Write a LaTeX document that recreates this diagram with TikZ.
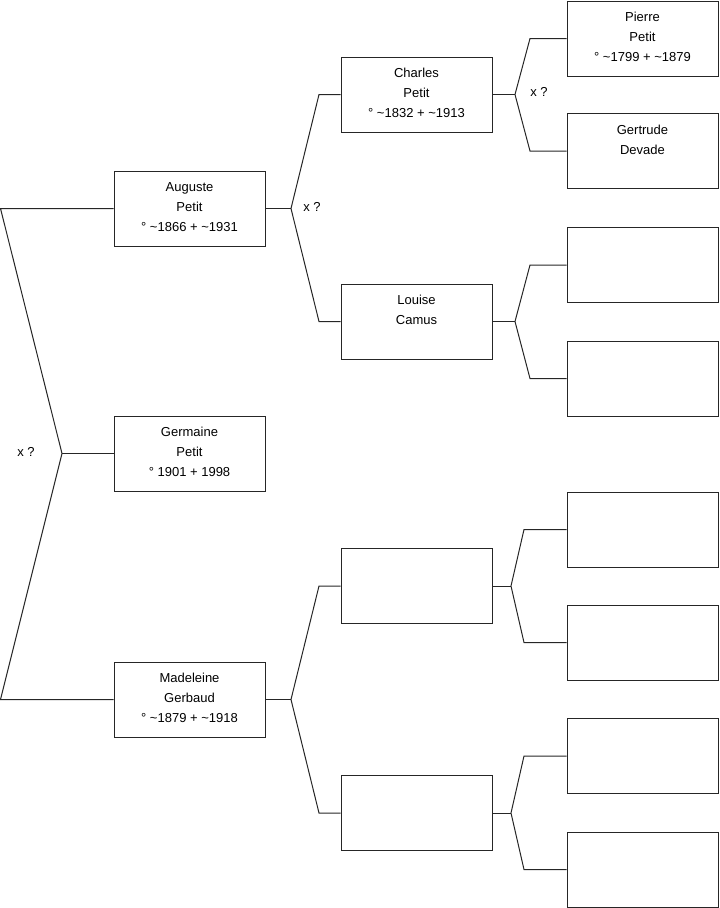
\documentclass[tikz,border=0pt]{standalone}
\usepackage{fontspec}
\setmainfont{Liberation Sans}
\begin{document}
\begin{tikzpicture}[x=0.75pt,y=-0.75pt,
  person/.style={draw=black!85, line width=0.75pt, minimum width=113.25pt, minimum height=56.25pt,
    inner sep=0pt, align=center, text depth=2.5pt, font=\fontsize{9.75}{15}\selectfont},
  link/.style={draw=black!85, line width=0.75pt},
  note/.style={font=\fontsize{9.75}{12}\selectfont, inner sep=0pt}]
\useasboundingbox (0,0) rectangle (719,908);
% column 0
\node[person] (aug) at (189.5,208.5) {Auguste\\Petit\\° \textasciitilde1866 + \textasciitilde1931};
\node[person] (ger) at (189.5,453.5) {Germaine\\Petit\\° 1901 + 1998};
\node[person] (mad) at (189.5,699.5) {Madeleine\\Gerbaud\\° \textasciitilde1879 + \textasciitilde1918};
% column 1
\node[person] (cha) at (416.5,94.5) {Charles\\Petit\\° \textasciitilde1832 + \textasciitilde1913};
\node[person] (lou) at (416.5,321.5) {Louise\\Camus\\\strut};
\node[person] (m1) at (416.5,586) {};
\node[person] (m2) at (416.5,813) {};
% column 2
\node[person] (pie) at (642.5,38.5) {Pierre\\Petit\\° \textasciitilde1799 + \textasciitilde1879};
\node[person] (ger2) at (642.5,151) {Gertrude\\Devade\\\strut};
\node[person] (r3) at (642.5,265) {};
\node[person] (r4) at (642.5,378.5) {};
\node[person] (r5) at (642.5,529.5) {};
\node[person] (r6) at (642.5,642.5) {};
\node[person] (r7) at (642.5,756) {};
\node[person] (r8) at (642.5,869.5) {};
% left bracket
\coordinate (lt) at (0.5,208.5);
\coordinate (lv) at (62,453.5);
\coordinate (lb) at (0.5,699.5);
\draw[link] (aug.west) -- (lt) -- (lv) -- (lb) -- (mad.west);
\draw[link] (lv) -- (ger.west);
\node[note] (x0) at (26,452) {x ?};
% Auguste -> parents
\coordinate (av) at (291,208.5);
\coordinate (au) at (319,94.5);
\coordinate (ad) at (319,321.5);
\draw[link] (aug.east) -- (av);
\draw[link] (cha.west) -- (au) -- (av) -- (ad) -- (lou.west);
\node[note] (x1) at (312,207) {x ?};
% Madeleine -> parents
\coordinate (mv) at (291,699.5);
\coordinate (mu) at (319,586);
\coordinate (md) at (319,813);
\draw[link] (mad.east) -- (mv);
\draw[link] (m1.west) -- (mu) -- (mv) -- (md) -- (m2.west);
% Charles -> parents
\coordinate (cv) at (515,94.5);
\coordinate (cu) at (530,38.5);
\coordinate (cd) at (530,151);
\draw[link] (cha.east) -- (cv);
\draw[link] (pie.west) -- (cu) -- (cv) -- (cd) -- (ger2.west);
\node[note] (x2) at (539,92) {x ?};
% Louise -> parents
\coordinate (lov) at (515,321.5);
\coordinate (lou1) at (530,265);
\coordinate (lod) at (530,378.5);
\draw[link] (lou.east) -- (lov);
\draw[link] (r3.west) -- (lou1) -- (lov) -- (lod) -- (r4.west);
% m1 -> parents
\coordinate (m1v) at (511,586);
\coordinate (m1u) at (524,529.5);
\coordinate (m1d) at (524,642.5);
\draw[link] (m1.east) -- (m1v);
\draw[link] (r5.west) -- (m1u) -- (m1v) -- (m1d) -- (r6.west);
% m2 -> parents
\coordinate (m2v) at (511,813);
\coordinate (m2u) at (524,756);
\coordinate (m2d) at (524,869.5);
\draw[link] (m2.east) -- (m2v);
\draw[link] (r7.west) -- (m2u) -- (m2v) -- (m2d) -- (r8.west);
\end{tikzpicture}
\end{document}
